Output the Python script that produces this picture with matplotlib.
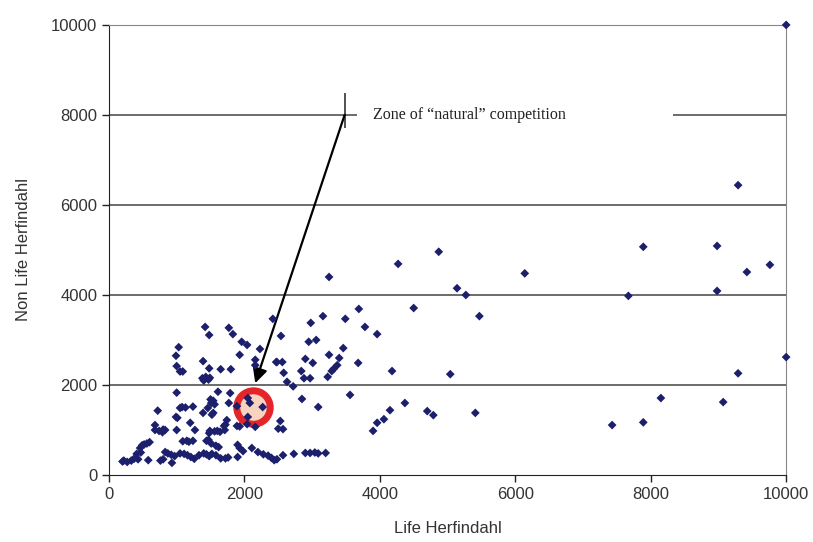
import matplotlib
matplotlib.use('Agg')
import matplotlib.pyplot as plt

# Life / Non Life Herfindahl per market
life = [
    1030, 990, 1000, 1050, 1090, 1390, 1420, 1480, 1480, 1650, 1800,
    1770, 1830, 1960, 2040, 1930, 2230, 2160, 2160,
    1380, 1430, 1470, 1490, 1400,
    2420, 2470, 2540, 2480, 2560, 2580, 2630, 2720,
    2840, 2880, 2970, 2900, 3010, 2950, 3060, 2980,
    3160, 3250, 3490, 3690, 3780, 3960, 3460, 3250, 3400,
    3370, 3320, 3290, 3680, 3230, 4180,
    4270, 4870, 6140, 5140, 5270, 4500, 5470, 5040,
    10000, 9290, 7890, 8980, 9760, 9420, 8980, 7670, 10000, 9290,
    1000, 1610, 1790,
    1500, 1540, 1510, 1560,
    720, 1050, 1080, 1130, 1240,
    1390, 1520, 990, 1010, 1200, 1740, 1700, 1720,
    680, 680, 740, 800, 830, 790, 1000, 1270,
    1490, 1560, 1600, 1710,
    600, 560, 520, 490, 460,
    1090, 1150, 1180, 1240, 1440, 1470,
    1510, 1580, 1620,
    830, 870, 920, 970, 1050, 1110,
    1400, 1440, 1480,
    1520, 1580, 1650, 1720, 1760,
    410, 470, 430, 370, 330,
    220, 270, 200,
    580, 760, 800, 930,
    1160, 1210, 1260, 1330,
    2050, 2080, 2270, 2050, 2160,
    2530, 2500, 2570,
    2850, 3560, 3090,
    1900, 1930, 1980, 2110,
    2200, 2280, 2350, 2400, 2440, 2480,
    2570, 2730, 2900, 2970, 3040, 3090, 3200, 1900,
    4370, 4150, 4060, 3960, 3900, 4700, 4790, 5410,
    8150, 9070, 7430, 7890,
    1770, 1890, 1460, 1540, 1640, 1480, 2040, 1890, 1930,
]
non_life = [
    2840, 2650, 2420, 2300, 2300, 2530, 3290, 3110, 2370, 2350, 2350,
    3270, 3130, 2960, 2890, 2670, 2800, 2560, 2440,
    2150, 2180, 2120, 2160, 2100,
    3470, 2510, 3090, 2510, 2510, 2270, 2070, 1970,
    2310, 2150, 2150, 2580, 2490, 2960, 3000, 3380,
    3530, 4400, 3470, 3690, 3290, 3130, 2820, 2670, 2600,
    2440, 2360, 2310, 2490, 2180, 2310,
    4690, 4960, 4480, 4150, 4000, 3710, 3530, 2240,
    10000, 6440, 5070, 5090, 4670, 4510, 4090, 3980, 2620, 2260,
    1830, 1850, 1820,
    1680, 1650, 1600, 1570,
    1430, 1490, 1510, 1500, 1520,
    1380, 1340, 1290, 1270, 1160, 1220, 1090, 1120,
    1110, 1000, 980, 1010, 1000, 950, 1000, 1000,
    980, 970, 980, 1000,
    730, 700, 680, 660, 600,
    750, 760, 740, 760, 760, 780,
    700, 650, 620,
    510, 480, 450, 420, 480, 470,
    480, 460, 420,
    470, 440, 370, 370, 390,
    470, 500, 350, 360, 320,
    320, 290, 300,
    330, 320, 350, 270,
    440, 400, 360, 440,
    1710, 1600, 1510, 1290, 1070,
    1200, 1030, 1020,
    1690, 1780, 1510,
    670, 600, 530, 600,
    510, 460, 430, 380, 330, 350,
    440, 470, 490, 490, 500, 480, 490, 400,
    1600, 1440, 1240, 1160, 980, 1420, 1330, 1380,
    1710, 1620, 1110, 1170,
    1600, 1530, 1490, 1380, 960, 930, 1130, 1090, 1080,
]

ticks = [0, 2000, 4000, 6000, 8000, 10000]
zone_label = 'Zone of \u201cnatural\u201d competition'
highlight = (2130, 1510)

plt.rcParams['font.family'] = ['Liberation Sans', 'DejaVu Sans']

fig = plt.figure(figsize=(8.13, 5.42), dpi=100)
ax = fig.add_axes([0.134, 0.1236, 0.833, 0.8304])

ax.set_xlim(0, 10000)
ax.set_ylim(0, 10000)
ax.set_xticks(ticks)
ax.set_yticks(ticks)
ax.tick_params(direction='out', length=5, width=1, labelsize=12,
               colors='#222222', labelcolor='#333333')

# gridlines (8000 is broken by the label)
grid_col = '#444444'
for t in [2000, 4000, 6000]:
    ax.axhline(t, color=grid_col, lw=1.1, zorder=1)
ax.axhline(10000, color='#888888', lw=1.1, zorder=1)
ax.hlines(8000, 0, 3660, color=grid_col, lw=1.1, zorder=1)
ax.hlines(8000, 8330, 10000, color=grid_col, lw=1.1, zorder=1)
ax.vlines(3490, 7710, 8490, color='#222222', lw=1.1, zorder=2)
ax.text(3900, 8000, zone_label, family=['Liberation Serif', 'DejaVu Serif'],
        fontsize=11.5, va='center', ha='left', color='#222222')

ax.annotate('', xy=(2160, 2040), xytext=(3480, 8000),
            arrowprops=dict(arrowstyle='-|>', color='black', lw=1.6,
                            mutation_scale=22, shrinkA=0, shrinkB=0))

# highlighted market
ax.scatter([highlight[0]], [highlight[1]], s=580, facecolor='#f8d3c0',
           edgecolor='#e4262a', linewidth=5, zorder=3)

ax.scatter(life, non_life, marker='D', s=20, color='#1c1f6b', zorder=4,
           edgecolors='none', clip_on=False)

for side in ['left', 'bottom']:
    ax.spines[side].set_color('#222222')
for side in ['right', 'top']:
    ax.spines[side].set_color('#888888')

ax.set_xlabel('Life Herfindahl', fontsize=12, color='#333333', labelpad=14)
ax.set_ylabel('Non Life Herfindahl', fontsize=12, color='#333333', labelpad=14)

fig.savefig('out.png', dpi=100)
